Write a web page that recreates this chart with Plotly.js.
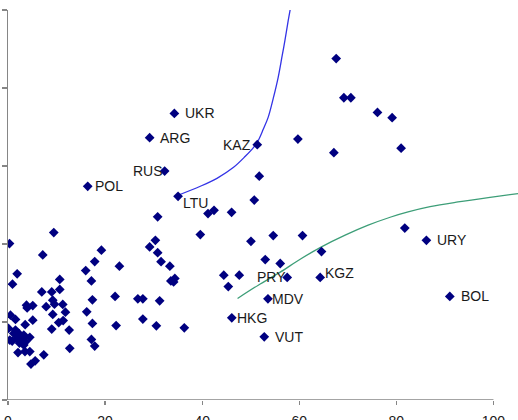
<!DOCTYPE html>
<html>
<head>
<meta charset="utf-8">
<script src="https://cdn.plot.ly/plotly-3.0.1.min.js"></script>
<style>
  html, body { margin: 0; padding: 0; background: #ffffff; }
  #chart { width: 518px; height: 420px; }
</style>
</head>
<body>
<div id="chart"></div>
<script>
// Labelled countries
const labelNames = ["UKR", "ARG", "KAZ", "RUS", "POL", "LTU", "URY", "PRY", "KGZ", "MDV", "BOL", "HKG", "VUT"];
const labelX = [34.27, 29.18, 51.35, 32.27, 16.42, 35.03, 86.19, 57.52, 64.31, 53.55, 91.01, 46.10, 52.79];
const labelY = [3.674, 3.363, 3.273, 2.935, 2.739, 2.611, 2.048, 1.571, 1.571, 1.297, 1.327, 1.053, 0.810];

// Remaining countries
const otherX = [
  67.61, 69.19, 70.63, 76.11, 79.13, 80.98, 59.72, 67.13, 51.76, 50.73,
  41.20, 42.44, 46.06, 30.83, 39.62, 50.05, 54.64, 60.67, 81.74, 64.58,
  52.99, 56.08, 44.45, 47.64, 45.38,
  30.36, 29.18, 30.83, 31.53, 33.34, 33.55, 34.12, 34.37, 26.75, 27.78,
  31.24, 27.78, 30.56, 36.32, 22.95, 22.06, 22.27, 19.24, 17.86, 16.01,
  17.18, 17.39, 16.22, 17.39, 17.18, 17.86,
  0.31, 9.43, 7.16, 1.89, 0.93, 10.66, 6.96, 9.01, 10.66, 9.22,
  9.57, 7.86, 11.28, 3.81, 3.95, 5.10, 9.22, 11.83, 0.51, 1.54,
  5.10, 3.54, 11.36, 10.45, 9.01, 12.60, 12.72, 7.37, 2.06, 3.50,
  4.49, 5.60, 4.73,
  0.10, 1.19, 1.54, 2.22, 2.57, 2.92, 3.25, 1.89, 0.37, 0.86,
  2.92, 3.60, 4.49, 3.25, 2.37
];
const otherY = [
  4.378, 3.875, 3.875, 3.686, 3.619, 3.229, 3.345, 3.171, 2.870, 2.564,
  2.390, 2.432, 2.406, 2.349, 2.121, 2.035, 2.108, 2.108, 2.205, 1.903,
  1.801, 1.750, 1.600, 1.600, 1.455,
  2.048, 1.962, 1.888, 1.773, 1.715, 1.527, 1.514, 1.558, 1.297, 1.297,
  1.271, 1.037, 0.951, 0.925, 1.715, 1.327, 0.954, 1.920, 1.775, 1.660,
  1.527, 1.284, 1.130, 0.982, 0.777, 0.691,
  2.006, 2.147, 1.860, 1.617, 1.485, 1.545, 1.386, 1.386, 1.417, 1.280,
  1.229, 1.197, 1.225, 1.216, 1.181, 1.210, 1.097, 1.126, 1.088, 1.033,
  1.024, 0.966, 1.018, 0.992, 0.909, 0.896, 0.663, 0.580, 0.608, 0.621,
  0.621, 0.503, 0.461,
  0.918, 0.854, 0.896, 0.854, 0.810, 0.790, 0.832, 0.790, 0.768, 0.755,
  0.749, 0.746, 0.803, 0.704, 0.730
];

// Fitted curves
const blueX = [35.03, 39.62, 43.05, 46.47, 48.88, 50.59, 51.56, 52.58, 53.61, 54.64, 55.67, 56.49, 57.05, 57.73, 58.20];
const blueY = [2.625, 2.740, 2.842, 2.983, 3.124, 3.239, 3.329, 3.470, 3.627, 3.866, 4.140, 4.417, 4.610, 4.866, 5.028];
const greenX = [47.29, 51.55, 56.08, 60.19, 64.58, 69.45, 74.19, 78.72, 82.42, 86.95, 92.71, 99.30, 105.06];
const greenY = [1.302, 1.472, 1.639, 1.805, 1.963, 2.113, 2.241, 2.343, 2.411, 2.478, 2.539, 2.599, 2.647];

// Axis ticks
const xTicks = [0, 20, 40, 60, 80, 100];
const yTicks = [0, 1, 2, 3, 4, 5];

// Label placement: anchor side and pixel offsets from the marker
const labelAnchor = ["left", "left", "right", "right", "left", "left", "left", "right", "left", "left", "left", "left", "left"];
const labelDX = [9, 8, 4, 0, 5, 3, 9, -1, 3, 2, 9, 3, 9];
const labelDY = [0, 0, 0, 0, 0, -7, 0, 0, 4, 0, 0, 0, 0];

const navy = "#000080";
const axisGrey = "#868686";

const traces = [
  {
    x: blueX, y: blueY, type: "scatter", mode: "lines",
    line: { color: "#3333e6", width: 1.3, shape: "spline" },
    hoverinfo: "skip"
  },
  {
    x: greenX, y: greenY, type: "scatter", mode: "lines",
    line: { color: "#3d9e78", width: 1.3, shape: "spline" },
    hoverinfo: "skip"
  },
  {
    x: otherX, y: otherY, type: "scatter", mode: "markers",
    marker: { symbol: "diamond", size: 7.5, color: navy }
  },
  {
    x: labelX, y: labelY, type: "scatter", mode: "markers",
    marker: { symbol: "diamond", size: 7.5, color: navy },
    text: labelNames
  }
];

const annotations = labelNames.map((name, i) => ({
  x: labelX[i], y: labelY[i], xref: "x", yref: "y",
  text: name, showarrow: false,
  xanchor: labelAnchor[i], yanchor: "middle",
  xshift: labelAnchor[i] === "left" ? labelDX[i] : -labelDX[i],
  yshift: labelDY[i],
  font: { family: "Liberation Sans, Arial, sans-serif", size: 14, color: "#1a1a1a" }
}));

const layout = {
  width: 518, height: 420,
  margin: { l: 8, r: 0, t: 10, b: 20, pad: 0 },
  paper_bgcolor: "#ffffff", plot_bgcolor: "#ffffff",
  showlegend: false,
  xaxis: {
    range: [0, 105.06], showgrid: false, zeroline: false, showline: false,
    tickmode: "array", tickvals: xTicks, ticktext: xTicks.map(String),
    ticks: "outside", ticklen: 4, tickwidth: 1.3, tickcolor: axisGrey,
    ticklabelstandoff: 4,
    tickfont: { family: "Liberation Sans, Arial, sans-serif", size: 14, color: "#1a1a1a" },
    automargin: false, fixedrange: true
  },
  yaxis: {
    range: [0, 5], showgrid: false, zeroline: false,
    showline: true, linecolor: axisGrey, linewidth: 1.3,
    tickmode: "array", tickvals: yTicks,
    ticks: "outside", ticklen: 5, tickwidth: 1.3, tickcolor: axisGrey,
    showticklabels: false, automargin: false, fixedrange: true
  },
  shapes: [
    {
      type: "line", xref: "x", yref: "y",
      x0: xTicks[0], x1: xTicks[xTicks.length - 1], y0: 0, y1: 0,
      line: { color: axisGrey, width: 1.3 }, layer: "below"
    }
  ],
  annotations: annotations
};

Plotly.newPlot("chart", traces, layout, { staticPlot: true, displayModeBar: false });
</script>
</body>
</html>
